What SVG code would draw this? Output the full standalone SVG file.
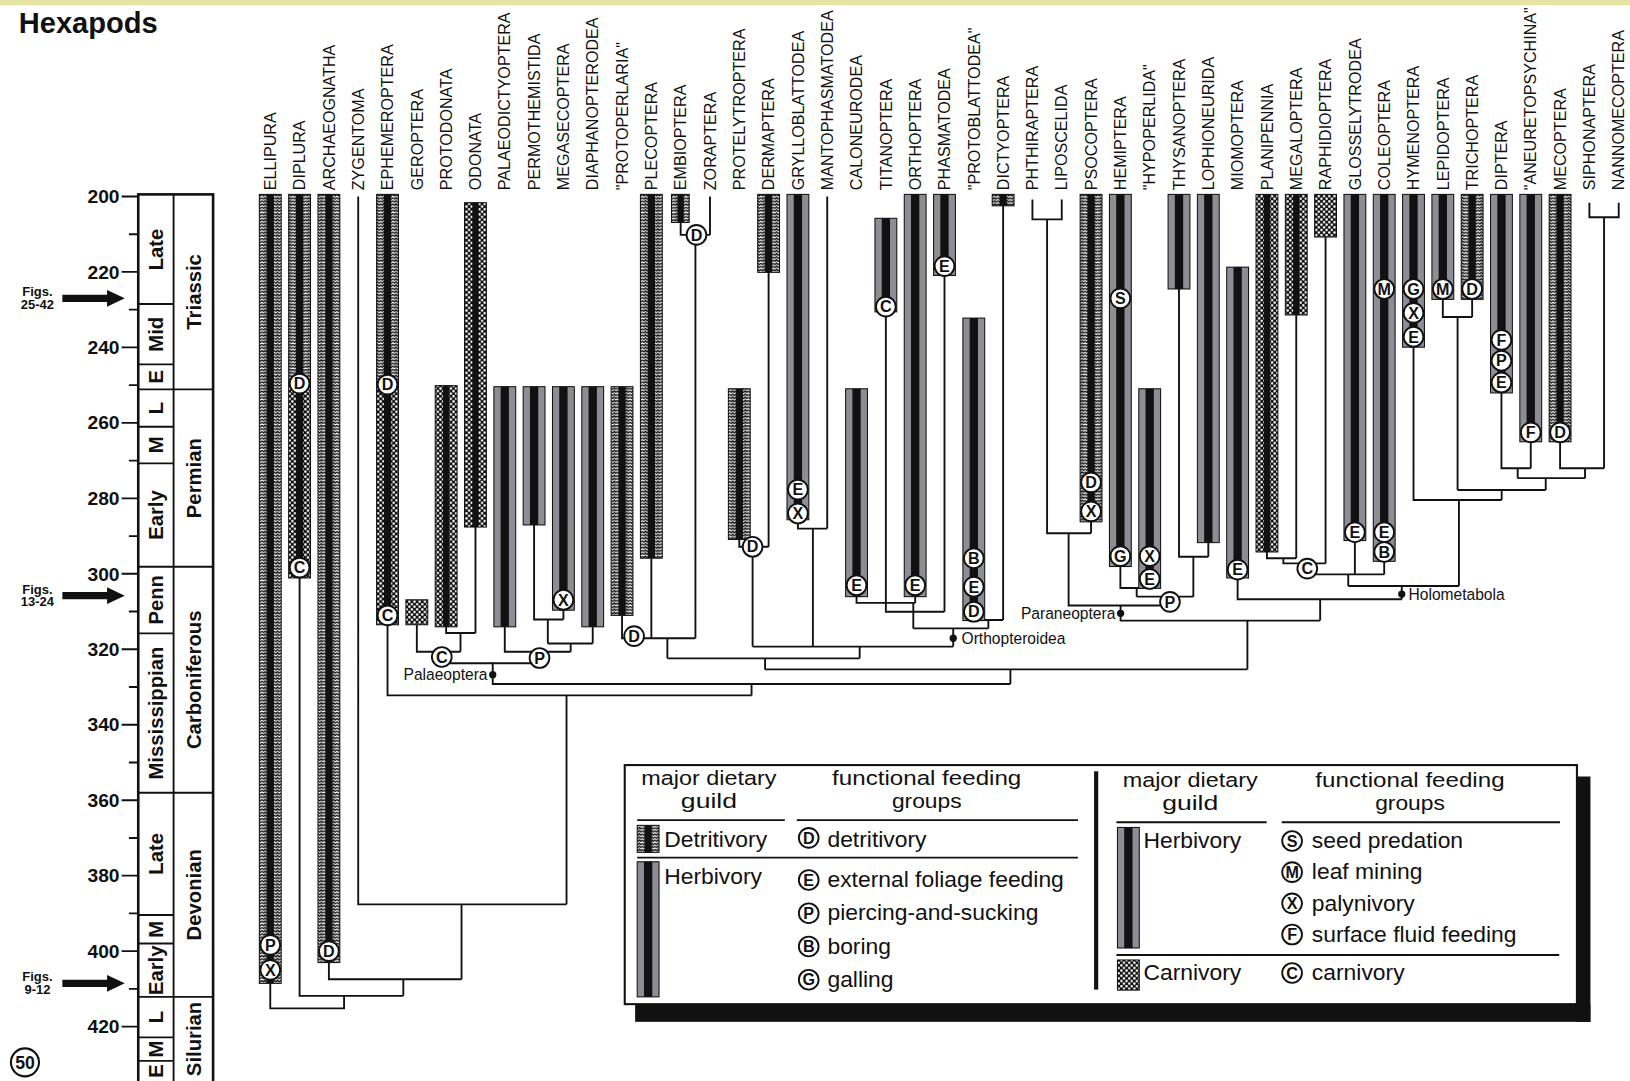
<svg xmlns="http://www.w3.org/2000/svg" width="1630" height="1081" viewBox="0 0 1630 1081">
<defs>
<pattern id="pd" width="6" height="6" patternUnits="userSpaceOnUse">
<rect width="6" height="6" fill="#fff"/>
<path d="M0,1 L1.5,2.6 L3,1 L4.5,2.6 L6,1 M0,4 L1.5,5.6 L3,4 L4.5,5.6 L6,4" stroke="#111" stroke-width="1.25" fill="none"/>
</pattern>
<pattern id="pc" width="5" height="5" patternUnits="userSpaceOnUse">
<rect width="5" height="5" fill="#111"/>
<circle cx="1.25" cy="1.25" r="1.2" fill="#fff"/>
<circle cx="3.75" cy="3.75" r="1.2" fill="#fff"/>
</pattern>
</defs>
<style>
.tax{font-size:15.5px;fill:#111}
.ln{fill:none;stroke:#111;stroke-width:1.8}
.h{fill:#8d8d95;stroke:#111;stroke-width:1}
.d{fill:url(#pd);stroke:#111;stroke-width:1}
.c{fill:url(#pc);stroke:#111;stroke-width:1}
.k{fill:#111}
.bc{fill:#fff;stroke:#111;stroke-width:1.8}
.bt{font-size:15.5px;font-weight:bold;text-anchor:middle;fill:#111}
.cl{font-size:15px;fill:#111}
.ax{font-weight:bold;fill:#111}
.lg{font-size:22px;fill:#111}
.lh{font-size:19.5px;fill:#111;text-anchor:middle}
.box{fill:none;stroke:#111}
</style>
<rect width="1630" height="1081" fill="#fff"/>
<rect width="1630" height="5" fill="#e6e4a4"/>
<g transform="scale(1.0395)" font-family="'Liberation Sans', Arial, Helvetica, sans-serif">

<text class="ax" x="18" y="32" font-size="28">Hexapods</text>

<!-- time scale -->
<g id="timescale">
<rect x="133" y="187" width="72" height="860" class="box" stroke-width="2.5"/>
<path class="ln" d="M167,187 V1045"/>
<path class="ln" d="M133,292.5 H167 M133,350.5 H167 M133,374.6 H205 M133,410.5 H167 M133,445.8 H167 M133,545.2 H205 M133,609.3 H167 M133,762.6 H205 M133,880.2 H167 M133,907.7 H167 M133,959 H205 M133,998 H167 M133,1020.6 H167"/>
<path class="ln" d="M117,189 H133 M117,261.6 H133 M117,334.2 H133 M117,406.8 H133 M117,479.4 H133 M117,552 H133 M117,624.6 H133 M117,697.2 H133 M117,769.8 H133 M117,842.4 H133 M117,915 H133 M117,987.6 H133"/>
<path class="ln" d="M124,225.3 H133 M124,297.9 H133 M124,370.5 H133 M124,443.1 H133 M124,515.7 H133 M124,588.3 H133 M124,660.9 H133 M124,733.5 H133 M124,806.1 H133 M124,878.7 H133 M124,951.3 H133"/>
<g class="ax" font-size="18.5" text-anchor="end">
<text x="115" y="195.5">200</text><text x="115" y="268">220</text><text x="115" y="340.5">240</text><text x="115" y="413">260</text><text x="115" y="485.5">280</text><text x="115" y="558.5">300</text><text x="115" y="631">320</text><text x="115" y="703.5">340</text><text x="115" y="776">360</text><text x="115" y="848.5">380</text><text x="115" y="921.5">400</text><text x="115" y="994">420</text>
</g>
<g class="ax" font-size="19.5" text-anchor="middle">
<text transform="translate(157,240) rotate(-90)">Late</text>
<text transform="translate(157,321.5) rotate(-90)">Mid</text>
<text transform="translate(157,362.5) rotate(-90)">E</text>
<text transform="translate(157,392.5) rotate(-90)">L</text>
<text transform="translate(157,428) rotate(-90)">M</text>
<text transform="translate(157,495.5) rotate(-90)">Early</text>
<text transform="translate(157,577) rotate(-90)">Penn</text>
<text transform="translate(157,686) rotate(-90)">Mississippian</text>
<text transform="translate(157,821.4) rotate(-90)">Late</text>
<text transform="translate(157,894) rotate(-90)">M</text>
<text transform="translate(157,933.4) rotate(-90)">Early</text>
<text transform="translate(157,978.5) rotate(-90)">L</text>
<text transform="translate(157,1009.3) rotate(-90)">M</text>
<text transform="translate(157,1030.3) rotate(-90)">E</text>
<text transform="translate(193,280.8) rotate(-90)">Triassic</text>
<text transform="translate(193,460) rotate(-90)">Permian</text>
<text transform="translate(193,654) rotate(-90)">Carboniferous</text>
<text transform="translate(193,860.8) rotate(-90)">Devonian</text>
<text transform="translate(193,999.5) rotate(-90)">Silurian</text>
</g>
<g class="ax" font-size="12.5" text-anchor="middle">
<text x="36" y="285">Figs.</text><text x="36" y="297">25-42</text>
<text x="36" y="571">Figs.</text><text x="36" y="583">13-24</text>
<text x="36" y="944">Figs.</text><text x="36" y="956">9-12</text>
</g>
<path class="k" d="M60,283.5 H103 V279 L120,287 L103,295 V290.5 H60 Z"/>
<path class="k" d="M60,569.5 H103 V565 L120,573 L103,581 V576.5 H60 Z"/>
<path class="k" d="M60,942.5 H103 V938 L120,946 L103,954 V949.5 H60 Z"/>
<circle cx="24" cy="1022" r="13.5" fill="#fff" stroke="#111" stroke-width="2"/>
<text class="ax" x="24" y="1028.5" font-size="17" text-anchor="middle">50</text>
</g>

<!-- connectors -->
<g id="connectors" class="ln">
<path d="M260,946 V970 H331 V958 M288.2,556 V958 H388 M388,958 V942 M316.4,926 V942 H444 M444,942 V870 M344.6,189 V870 H545 M545,870 V669 M372.8,601 V669 H723 M723,669 V658 M474,637 V658 H972 M972,658 V644 M736,644 H1200 M1200,644 V597 M1078,582.5 V597 H1270"/>
<path d="M401,601 V627 H443 M443,627 V609 M429.2,603 V609 H457.4 M457.4,507 V609 M425,638 H519 M485.6,603 V627 H549 M549,627 V619 M527,619 H570.2 M570.2,603 V619 M527,619 V596 M513.8,505 V596 H542 M542,587 V596"/>
<path d="M642,633.3 H827 M736,633.3 V644 M642,633.3 V614 M598.4,592 V614 H669 M626.6,537 V614 M669,226 V614 M654.8,214 V226 H683 M683,189 V226 M827,633.3 V622 M724,622 H917 M724,622 V526 M711.2,519 V526 H739.4 M739.4,262 V526 M782,622 V508.5 M767.6,500 V508.5 H795.8 M795.8,189 V508.5 M917,622 V604.5 M878.6,604.5 H950.8 M878.6,604.5 V580 M824,574 V580 H880.4 M880.4,574 V580 M852.2,300 V588.5 H908.6 M908.6,265 V588.5 M950.8,604.5 V596.4 M936.8,596.4 H965 M965,198 V596.4"/>
<path d="M993.2,192 V211 H1021.4 V192 M1007.3,211 V513 H1049.6 M1049.6,502 V513 M1028,513 V582.5 H1117 M1093.5,574 H1148 M1093.5,574 V565.6 M1077.8,545 V565.6 H1106 M1148,574 V535.6 M1134.2,278 V535.6 H1162.4 M1162.4,522 V535.6"/>
<path d="M1270,597 V576.5 M1190.6,556 V576.5 H1348.5 M1348.5,576.5 V563.7 M1297,563.7 H1403.5 M1297,563.7 V552.6 M1257.6,552.6 H1331.6 M1303.4,520 V552.6 M1331.6,540 V552.6 M1218.8,531 V537 H1247 M1247,303 V537 M1234.6,537 V542 H1275.2 M1275.2,228 V542 M1403.5,563.7 V481 M1359.8,334 V481 H1444.6 M1444.6,481 V471.4 M1402.2,471.4 H1487 M1402.2,471.4 V305 M1388,288 V305 H1416.2 M1416.2,288 V305 M1487,471.4 V460 M1460,460 H1524.8 M1460,460 V450.5 M1444.4,378 V450.5 H1472.6 M1472.6,425 V450.5 M1524.8,460 V450.5 M1500.8,425 V450.5 H1543.1 M1543.1,450.5 V209 M1529,195 V209 H1557.2 V195"/>
<circle cx="474" cy="649" r="3.5" class="k" stroke="none"/>
<circle cx="917" cy="614" r="3.5" class="k" stroke="none"/>
<circle cx="1078" cy="590" r="3.5" class="k" stroke="none"/>
<circle cx="1348.5" cy="571.5" r="3.5" class="k" stroke="none"/>
</g>
<g id="clade-labels">
<text class="cl" x="469" y="654" text-anchor="end">Palaeoptera</text>
<text class="cl" x="925" y="620">Orthopteroidea</text>
<text class="cl" x="1073" y="595" text-anchor="end">Paraneoptera</text>
<text class="cl" x="1355" y="577">Holometabola</text>
</g>

<!-- taxa -->
<g id="t0"><text class="tax" transform="translate(265.5,183) rotate(-90)">ELLIPURA</text><rect class="d" x="249.5" y="187" width="21" height="759"/><rect class="k" x="256.5" y="187" width="7" height="759"/></g>
<g id="t1"><text class="tax" transform="translate(293.7,183) rotate(-90)">DIPLURA</text><rect class="d" x="277.7" y="187" width="21" height="182"/><rect class="c" x="277.7" y="369" width="21" height="187"/><rect class="k" x="284.7" y="187" width="7" height="369"/></g>
<g id="t2"><text class="tax" transform="translate(321.9,183) rotate(-90)">ARCHAEOGNATHA</text><rect class="d" x="305.9" y="187" width="21" height="739"/><rect class="k" x="312.9" y="187" width="7" height="739"/></g>
<g id="t3"><text class="tax" transform="translate(350.1,183) rotate(-90)">ZYGENTOMA</text></g>
<g id="t4"><text class="tax" transform="translate(378.3,183) rotate(-90)">EPHEMEROPTERA</text><rect class="d" x="362.3" y="187" width="21" height="183"/><rect class="c" x="362.3" y="370" width="21" height="231"/><rect class="k" x="369.3" y="187" width="7" height="414"/></g>
<g id="t5"><text class="tax" transform="translate(406.5,183) rotate(-90)">GEROPTERA</text><rect class="c" x="390.5" y="577" width="21" height="24"/></g>
<g id="t6"><text class="tax" transform="translate(434.7,183) rotate(-90)">PROTODONATA</text><rect class="c" x="418.7" y="371" width="21" height="232"/><rect class="k" x="426.2" y="371" width="6" height="232"/></g>
<g id="t7"><text class="tax" transform="translate(462.9,183) rotate(-90)">ODONATA</text><rect class="c" x="446.9" y="195" width="21" height="312"/><rect class="k" x="454.4" y="195" width="6" height="312"/></g>
<g id="t8"><text class="tax" transform="translate(491.1,183) rotate(-90)">PALAEODICTYOPTERA</text><rect class="h" x="475.1" y="372" width="21" height="231"/><rect class="k" x="481.6" y="372" width="8" height="231"/></g>
<g id="t9"><text class="tax" transform="translate(519.3,183) rotate(-90)">PERMOTHEMISTIDA</text><rect class="h" x="503.3" y="372" width="21" height="133"/><rect class="k" x="509.8" y="372" width="8" height="133"/></g>
<g id="t10"><text class="tax" transform="translate(547.5,183) rotate(-90)">MEGASECOPTERA</text><rect class="h" x="531.5" y="372" width="21" height="215"/><rect class="k" x="538" y="372" width="8" height="215"/></g>
<g id="t11"><text class="tax" transform="translate(575.7,183) rotate(-90)">DIAPHANOPTERODEA</text><rect class="h" x="559.7" y="372" width="21" height="231"/><rect class="k" x="566.2" y="372" width="8" height="231"/></g>
<g id="t12"><text class="tax" transform="translate(603.9,183) rotate(-90)">"PROTOPERLARIA"</text><rect class="d" x="587.9" y="372" width="21" height="220"/><rect class="k" x="594.9" y="372" width="7" height="220"/></g>
<g id="t13"><text class="tax" transform="translate(632.1,183) rotate(-90)">PLECOPTERA</text><rect class="d" x="616.1" y="187" width="21" height="350"/><rect class="k" x="623.1" y="187" width="7" height="350"/></g>
<g id="t14"><text class="tax" transform="translate(660.3,183) rotate(-90)">EMBIOPTERA</text><rect class="d" x="646" y="187" width="17" height="27"/><rect class="k" x="651.8" y="187" width="6" height="27"/></g>
<g id="t15"><text class="tax" transform="translate(688.5,183) rotate(-90)">ZORAPTERA</text></g>
<g id="t16"><text class="tax" transform="translate(716.7,183) rotate(-90)">PROTELYTROPTERA</text><rect class="d" x="700.7" y="374" width="21" height="145"/><rect class="k" x="707.7" y="374" width="7" height="145"/></g>
<g id="t17"><text class="tax" transform="translate(744.9,183) rotate(-90)">DERMAPTERA</text><rect class="d" x="728.9" y="187" width="21" height="75"/><rect class="k" x="735.9" y="187" width="7" height="75"/></g>
<g id="t18"><text class="tax" transform="translate(773.1,183) rotate(-90)">GRYLLOBLATTODEA</text><rect class="h" x="757.1" y="187" width="21" height="313"/><rect class="k" x="763.6" y="187" width="8" height="313"/></g>
<g id="t19"><text class="tax" transform="translate(801.3,183) rotate(-90)">MANTOPHASMATODEA</text></g>
<g id="t20"><text class="tax" transform="translate(829.5,183) rotate(-90)">CALONEURODEA</text><rect class="h" x="813.5" y="374" width="21" height="200"/><rect class="k" x="820" y="374" width="8" height="200"/></g>
<g id="t21"><text class="tax" transform="translate(857.7,183) rotate(-90)">TITANOPTERA</text><rect class="h" x="841.7" y="210" width="21" height="90"/><rect class="k" x="848.2" y="210" width="8" height="90"/></g>
<g id="t22"><text class="tax" transform="translate(885.9,183) rotate(-90)">ORTHOPTERA</text><rect class="h" x="869.9" y="187" width="21" height="387"/><rect class="k" x="876.4" y="187" width="8" height="387"/></g>
<g id="t23"><text class="tax" transform="translate(914.1,183) rotate(-90)">PHASMATODEA</text><rect class="h" x="898.1" y="187" width="21" height="78"/><rect class="k" x="904.6" y="187" width="8" height="78"/></g>
<g id="t24"><text class="tax" transform="translate(942.3,183) rotate(-90)">"PROTOBLATTODEA"</text><rect class="h" x="926.3" y="306" width="21" height="291"/><rect class="k" x="932.8" y="306" width="8" height="291"/></g>
<g id="t25"><text class="tax" transform="translate(970.5,183) rotate(-90)">DICTYOPTERA</text><rect class="d" x="954.5" y="187" width="21" height="11"/><rect class="k" x="961.5" y="187" width="7" height="11"/></g>
<g id="t26"><text class="tax" transform="translate(998.7,183) rotate(-90)">PHTHIRAPTERA</text></g>
<g id="t27"><text class="tax" transform="translate(1026.9,183) rotate(-90)">LIPOSCELIDA</text></g>
<g id="t28"><text class="tax" transform="translate(1055.1,183) rotate(-90)">PSOCOPTERA</text><rect class="d" x="1039.1" y="187" width="21" height="315"/><rect class="k" x="1046.1" y="187" width="7" height="315"/></g>
<g id="t29"><text class="tax" transform="translate(1083.3,183) rotate(-90)">HEMIPTERA</text><rect class="h" x="1067.3" y="187" width="21" height="358"/><rect class="k" x="1073.8" y="187" width="8" height="358"/></g>
<g id="t30"><text class="tax" transform="translate(1111.5,183) rotate(-90)">"HYPOPERLIDA"</text><rect class="h" x="1095.5" y="374" width="21" height="192"/><rect class="k" x="1102" y="374" width="8" height="192"/></g>
<g id="t31"><text class="tax" transform="translate(1139.7,183) rotate(-90)">THYSANOPTERA</text><rect class="h" x="1123.7" y="187" width="21" height="91"/><rect class="k" x="1130.2" y="187" width="8" height="91"/></g>
<g id="t32"><text class="tax" transform="translate(1167.9,183) rotate(-90)">LOPHIONEURIDA</text><rect class="h" x="1151.9" y="187" width="21" height="335"/><rect class="k" x="1158.4" y="187" width="8" height="335"/></g>
<g id="t33"><text class="tax" transform="translate(1196.1,183) rotate(-90)">MIOMOPTERA</text><rect class="h" x="1180.1" y="257" width="21" height="299"/><rect class="k" x="1186.6" y="257" width="8" height="299"/></g>
<g id="t34"><text class="tax" transform="translate(1224.3,183) rotate(-90)">PLANIPENNIA</text><rect class="c" x="1208.3" y="187" width="21" height="344"/><rect class="k" x="1215.8" y="187" width="6" height="344"/></g>
<g id="t35"><text class="tax" transform="translate(1252.5,183) rotate(-90)">MEGALOPTERA</text><rect class="c" x="1236.5" y="187" width="21" height="116"/><rect class="k" x="1244" y="187" width="6" height="116"/></g>
<g id="t36"><text class="tax" transform="translate(1280.7,183) rotate(-90)">RAPHIDIOPTERA</text><rect class="c" x="1264.7" y="187" width="21" height="41"/></g>
<g id="t37"><text class="tax" transform="translate(1308.9,183) rotate(-90)">GLOSSELYTRODEA</text><rect class="h" x="1292.9" y="187" width="21" height="333"/><rect class="k" x="1299.4" y="187" width="8" height="333"/></g>
<g id="t38"><text class="tax" transform="translate(1337.1,183) rotate(-90)">COLEOPTERA</text><rect class="h" x="1321.1" y="187" width="21" height="353"/><rect class="k" x="1327.6" y="187" width="8" height="353"/></g>
<g id="t39"><text class="tax" transform="translate(1365.3,183) rotate(-90)">HYMENOPTERA</text><rect class="h" x="1349.3" y="187" width="21" height="147"/><rect class="k" x="1355.8" y="187" width="8" height="147"/></g>
<g id="t40"><text class="tax" transform="translate(1393.5,183) rotate(-90)">LEPIDOPTERA</text><rect class="h" x="1377.5" y="187" width="21" height="101"/><rect class="k" x="1384" y="187" width="8" height="101"/></g>
<g id="t41"><text class="tax" transform="translate(1421.7,183) rotate(-90)">TRICHOPTERA</text><rect class="d" x="1405.7" y="187" width="21" height="101"/><rect class="k" x="1412.7" y="187" width="7" height="101"/></g>
<g id="t42"><text class="tax" transform="translate(1449.9,183) rotate(-90)">DIPTERA</text><rect class="h" x="1433.9" y="187" width="21" height="191"/><rect class="k" x="1440.4" y="187" width="8" height="191"/></g>
<g id="t43"><text class="tax" transform="translate(1478.1,183) rotate(-90)">"ANEURETOPSYCHINA"</text><rect class="h" x="1462.1" y="187" width="21" height="238"/><rect class="k" x="1468.6" y="187" width="8" height="238"/></g>
<g id="t44"><text class="tax" transform="translate(1506.3,183) rotate(-90)">MECOPTERA</text><rect class="d" x="1490.3" y="187" width="21" height="238"/><rect class="k" x="1497.3" y="187" width="7" height="238"/></g>
<g id="t45"><text class="tax" transform="translate(1534.5,183) rotate(-90)">SIPHONAPTERA</text></g>
<g id="t46"><text class="tax" transform="translate(1562.7,183) rotate(-90)">NANNOMECOPTERA</text></g>

<!-- feeding group badges -->
<g id="badges">
<g transform="translate(260,909)"><circle class="bc" r="9.5"/><text class="bt" y="5.5">P</text></g>
<g transform="translate(260,933)"><circle class="bc" r="9.5"/><text class="bt" y="5.5">X</text></g>
<g transform="translate(288.2,369)"><circle class="bc" r="9.5"/><text class="bt" y="5.5">D</text></g>
<g transform="translate(288.2,546)"><circle class="bc" r="9.5"/><text class="bt" y="5.5">C</text></g>
<g transform="translate(316.4,915)"><circle class="bc" r="9.5"/><text class="bt" y="5.5">D</text></g>
<g transform="translate(372.8,370)"><circle class="bc" r="9.5"/><text class="bt" y="5.5">D</text></g>
<g transform="translate(372.8,592)"><circle class="bc" r="9.5"/><text class="bt" y="5.5">C</text></g>
<g transform="translate(425,632)"><circle class="bc" r="9.5"/><text class="bt" y="5.5">C</text></g>
<g transform="translate(519,633)"><circle class="bc" r="9.5"/><text class="bt" y="5.5">P</text></g>
<g transform="translate(542,577)"><circle class="bc" r="9.5"/><text class="bt" y="5.5">X</text></g>
<g transform="translate(610,612)"><circle class="bc" r="9.5"/><text class="bt" y="5.5">D</text></g>
<g transform="translate(670,226)"><circle class="bc" r="9.5"/><text class="bt" y="5.5">D</text></g>
<g transform="translate(724,526)"><circle class="bc" r="9.5"/><text class="bt" y="5.5">D</text></g>
<g transform="translate(767.6,471)"><circle class="bc" r="9.5"/><text class="bt" y="5.5">E</text></g>
<g transform="translate(767.6,494)"><circle class="bc" r="9.5"/><text class="bt" y="5.5">X</text></g>
<g transform="translate(824,563)"><circle class="bc" r="9.5"/><text class="bt" y="5.5">E</text></g>
<g transform="translate(852.2,295)"><circle class="bc" r="9.5"/><text class="bt" y="5.5">C</text></g>
<g transform="translate(880.4,563)"><circle class="bc" r="9.5"/><text class="bt" y="5.5">E</text></g>
<g transform="translate(908.6,256)"><circle class="bc" r="9.5"/><text class="bt" y="5.5">E</text></g>
<g transform="translate(936.8,537)"><circle class="bc" r="9.5"/><text class="bt" y="5.5">B</text></g>
<g transform="translate(936.8,564.5)"><circle class="bc" r="9.5"/><text class="bt" y="5.5">E</text></g>
<g transform="translate(936.8,588.5)"><circle class="bc" r="9.5"/><text class="bt" y="5.5">D</text></g>
<g transform="translate(1049.6,464)"><circle class="bc" r="9.5"/><text class="bt" y="5.5">D</text></g>
<g transform="translate(1049.6,492)"><circle class="bc" r="9.5"/><text class="bt" y="5.5">X</text></g>
<g transform="translate(1077.8,287)"><circle class="bc" r="9.5"/><text class="bt" y="5.5">S</text></g>
<g transform="translate(1077.8,535)"><circle class="bc" r="9.5"/><text class="bt" y="5.5">G</text></g>
<g transform="translate(1106,535)"><circle class="bc" r="9.5"/><text class="bt" y="5.5">X</text></g>
<g transform="translate(1106,557)"><circle class="bc" r="9.5"/><text class="bt" y="5.5">E</text></g>
<g transform="translate(1125.5,579)"><circle class="bc" r="9.5"/><text class="bt" y="5.5">P</text></g>
<g transform="translate(1190.6,548)"><circle class="bc" r="9.5"/><text class="bt" y="5.5">E</text></g>
<g transform="translate(1257.6,547)"><circle class="bc" r="9.5"/><text class="bt" y="5.5">C</text></g>
<g transform="translate(1303.4,512)"><circle class="bc" r="9.5"/><text class="bt" y="5.5">E</text></g>
<g transform="translate(1331.6,278)"><circle class="bc" r="9.5"/><text class="bt" y="5.5">M</text></g>
<g transform="translate(1331.6,512)"><circle class="bc" r="9.5"/><text class="bt" y="5.5">E</text></g>
<g transform="translate(1331.6,531)"><circle class="bc" r="9.5"/><text class="bt" y="5.5">B</text></g>
<g transform="translate(1359.8,278)"><circle class="bc" r="9.5"/><text class="bt" y="5.5">G</text></g>
<g transform="translate(1359.8,301)"><circle class="bc" r="9.5"/><text class="bt" y="5.5">X</text></g>
<g transform="translate(1359.8,324)"><circle class="bc" r="9.5"/><text class="bt" y="5.5">E</text></g>
<g transform="translate(1388,278)"><circle class="bc" r="9.5"/><text class="bt" y="5.5">M</text></g>
<g transform="translate(1416.2,278)"><circle class="bc" r="9.5"/><text class="bt" y="5.5">D</text></g>
<g transform="translate(1444.4,327)"><circle class="bc" r="9.5"/><text class="bt" y="5.5">F</text></g>
<g transform="translate(1444.4,347)"><circle class="bc" r="9.5"/><text class="bt" y="5.5">P</text></g>
<g transform="translate(1444.4,368)"><circle class="bc" r="9.5"/><text class="bt" y="5.5">E</text></g>
<g transform="translate(1472.6,416)"><circle class="bc" r="9.5"/><text class="bt" y="5.5">F</text></g>
<g transform="translate(1500.8,416)"><circle class="bc" r="9.5"/><text class="bt" y="5.5">D</text></g>
</g>

<!-- legend -->
<g id="legend">
<rect x="1517" y="747" width="13" height="236" class="k"/>
<rect x="611" y="966" width="919" height="17" class="k"/>
<rect x="601" y="736" width="916" height="230" fill="#fff" stroke="#111" stroke-width="2"/>
<rect x="1052.5" y="742" width="4" height="210" class="k"/>
<g class="lh">
<text x="682" y="755" textLength="130" lengthAdjust="spacingAndGlyphs">major dietary</text><text x="682" y="777" textLength="54" lengthAdjust="spacingAndGlyphs">guild</text>
<text x="891.5" y="755" textLength="182" lengthAdjust="spacingAndGlyphs">functional feeding</text><text x="891.5" y="777" textLength="67" lengthAdjust="spacingAndGlyphs">groups</text>
<text x="1145" y="757" textLength="130" lengthAdjust="spacingAndGlyphs">major dietary</text><text x="1145" y="779" textLength="54" lengthAdjust="spacingAndGlyphs">guild</text>
<text x="1356.4" y="757" textLength="182" lengthAdjust="spacingAndGlyphs">functional feeding</text><text x="1356.4" y="779" textLength="67" lengthAdjust="spacingAndGlyphs">groups</text>
</g>
<path class="ln" stroke-width="3.5" d="M613,789 H755 M766.5,789 H1037 M1074,791 H1218.5 M1233,791 H1500.7"/>
<path class="ln" stroke-width="1.5" d="M613,825 H1037 M1074,918.7 H1500"/>
<rect class="d" x="613" y="794" width="21" height="26"/><rect class="k" x="620" y="794" width="7" height="26"/>
<rect class="h" x="613" y="829" width="21" height="130"/><rect class="k" x="619.5" y="829" width="8" height="130"/>
<rect class="h" x="1075" y="796" width="21" height="116"/><rect class="k" x="1081.5" y="796" width="8" height="116"/>
<rect class="c" x="1075" y="923.5" width="21" height="29"/>
<g class="lg">
<text x="639" y="814.5">Detritivory</text>
<text x="639" y="850">Herbivory</text>
<text x="1100" y="816">Herbivory</text>
<text x="1100" y="943">Carnivory</text>
<text x="796" y="814.5">detritivory</text>
<text x="796" y="853.5">external foliage feeding</text>
<text x="796" y="885.5">piercing-and-sucking</text>
<text x="796" y="917.5">boring</text>
<text x="796" y="949.5">galling</text>
<text x="1262" y="816">seed predation</text>
<text x="1262" y="846">leaf mining</text>
<text x="1262" y="876">palynivory</text>
<text x="1262" y="906">surface fluid feeding</text>
<text x="1262" y="943">carnivory</text>
</g>
<g transform="translate(778,806)"><circle class="bc" r="9.5"/><text class="bt" y="5.5">D</text></g>
<g transform="translate(778,846.5)"><circle class="bc" r="9.5"/><text class="bt" y="5.5">E</text></g>
<g transform="translate(778,878.5)"><circle class="bc" r="9.5"/><text class="bt" y="5.5">P</text></g>
<g transform="translate(778,910.5)"><circle class="bc" r="9.5"/><text class="bt" y="5.5">B</text></g>
<g transform="translate(778,942.5)"><circle class="bc" r="9.5"/><text class="bt" y="5.5">G</text></g>
<g transform="translate(1243,809)"><circle class="bc" r="9.5"/><text class="bt" y="5.5">S</text></g>
<g transform="translate(1243,839)"><circle class="bc" r="9.5"/><text class="bt" y="5.5">M</text></g>
<g transform="translate(1243,869)"><circle class="bc" r="9.5"/><text class="bt" y="5.5">X</text></g>
<g transform="translate(1243,899)"><circle class="bc" r="9.5"/><text class="bt" y="5.5">F</text></g>
<g transform="translate(1243,936)"><circle class="bc" r="9.5"/><text class="bt" y="5.5">C</text></g>
</g>
</g>
</svg>
